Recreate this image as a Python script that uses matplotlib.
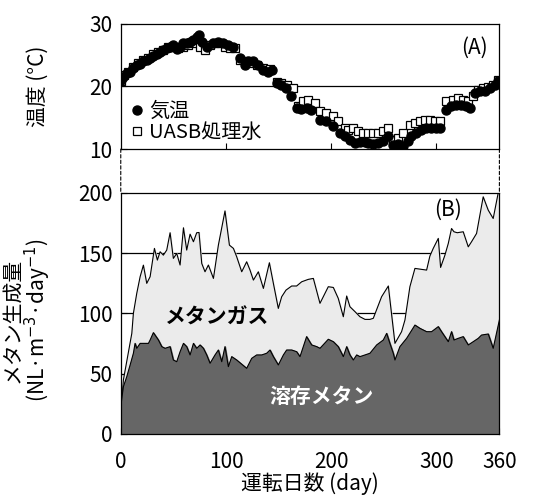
import matplotlib
matplotlib.use('Agg')
import matplotlib.pyplot as plt
from matplotlib.patches import ConnectionPatch

plt.rcParams['font.family'] = ['Noto Sans CJK JP', 'DejaVu Sans']
plt.rcParams['mathtext.fontset'] = 'dejavusans'

# (A) temperature
air_day = [0, 2.5, 5.7, 8.9, 12.0, 15.2, 18.4, 21.5, 24.7, 27.8, 31.0, 34.2, 37.3, 40.5, 43.7,
           46.8, 50.0, 53.2, 56.3, 59.5, 62.7, 65.8, 69.0, 72.2, 74.4, 76.9, 81.6, 88.0, 92.7,
           97.5, 102.2, 107.0, 113.3, 118.0, 121.2, 125.9, 130.7, 135.4, 140.2, 143.4, 148.1,
           152.8, 157.0, 162.3, 167.1, 171.8, 176.6, 181.3, 189.2, 195.6, 201.9, 208.2, 213.0,
           217.7, 222.5, 227.2, 232.0, 235.1, 239.9, 244.6, 249.4, 254.1, 258.9, 263.6, 268.4,
           273.1, 276.3, 281.0, 285.8, 290.5, 295.3, 300.0, 303.2, 309.5, 314.2, 319.0, 323.7,
           328.5, 331.6, 336.4, 341.1, 345.9, 350.6, 355.4, 358.5]
air_temp = [20.96, 21.49, 22.13, 22.39, 22.93, 23.46, 23.62, 23.99, 24.26, 24.52, 24.89, 25.21,
            25.43, 25.85, 26.12, 26.38, 26.65, 25.96, 26.38, 26.91, 27.02, 27.18, 27.45, 27.98,
            28.24, 27.18, 26.38, 26.91, 27.18, 27.02, 26.65, 26.38, 24.52, 23.46, 23.99, 23.99,
            23.46, 22.66, 22.39, 22.66, 20.53, 20.27, 19.73, 18.40, 16.54, 16.38, 16.54, 16.28,
            14.68, 14.41, 13.62, 12.55, 12.02, 11.49, 10.96, 11.06, 11.06, 10.96, 10.85, 10.96,
            11.22, 12.02, 10.69, 10.85, 10.43, 11.22, 12.02, 12.55, 13.09, 13.35, 13.35, 13.35,
            13.35, 16.28, 16.81, 17.07, 17.07, 16.81, 16.54, 18.94, 19.20, 19.20, 19.73, 20.27,
            20.80]

water_day = [0, 3.2, 7.3, 12.0, 16.8, 21.5, 26.3, 31.0, 35.8, 40.5, 45.3, 50.0, 54.7, 59.5,
             64.2, 69.0, 75.3, 80.1, 84.8, 89.6, 94.3, 99.1, 103.8, 108.5, 113.3, 119.6, 124.4,
             129.1, 135.4, 141.8, 148.1, 152.8, 157.6, 163.9, 168.7, 173.4, 178.2, 184.5, 189.2,
             195.6, 201.9, 206.6, 213.0, 216.1, 220.9, 225.6, 230.4, 235.1, 239.9, 244.6, 249.4,
             254.1, 258.9, 263.6, 268.4, 274.7, 279.4, 284.2, 288.9, 293.7, 298.4, 303.2, 309.5,
             315.8, 320.6, 325.3, 330.1, 334.8, 339.6, 344.3, 349.1, 353.8, 358.5]
water_temp = [20.80, 21.86, 22.39, 23.19, 23.72, 24.26, 24.52, 25.21, 25.43, 25.85, 26.28, 26.38,
              26.12, 26.38, 26.65, 26.91, 26.38, 25.85, 26.65, 27.02, 26.91, 26.38, 26.12, 26.12,
              24.26, 23.99, 23.72, 23.46, 22.93, 22.77, 20.64, 20.53, 20.27, 19.73, 16.91, 17.61,
              17.87, 17.34, 16.01, 15.74, 15.21, 14.41, 13.35, 13.09, 13.35, 12.82, 12.55, 12.55,
              12.55, 12.55, 12.82, 13.35, 11.49, 11.76, 12.55, 13.88, 14.15, 14.41, 14.68, 14.68,
              14.41, 14.41, 17.61, 17.87, 18.14, 17.87, 17.61, 18.40, 19.47, 19.73, 19.89, 20.27,
              20.96]

# (B) methane production
gas_day = [0, 2.5, 10.5, 12.0, 15.2, 18.4, 21.5, 24.7, 27.9, 32.0, 34.8, 37.4, 40.5, 43.7, 46.9,
           50.0, 53.2, 56.4, 59.6, 62.7, 65.9, 69.1, 72.2, 74.4, 77.0, 80.1, 83.3, 88.1, 92.8,
           99.1, 103.3, 107.1, 110.2, 115.0, 119.7, 122.9, 126.1, 130.8, 135.6, 141.3, 145.1,
           149.8, 153.0, 157.1, 162.5, 167.2, 172.0, 178.3, 183.1, 189.4, 197.3, 202.1, 206.8,
           211.6, 214.8, 217.9, 222.7, 227.4, 232.2, 236.9, 240.1, 248.0, 254.4, 260.7, 267.0,
           270.2, 274.9, 279.7, 286.0, 290.8, 293.9, 297.1, 301.9, 304.1, 308.2, 311.4, 314.5,
           316.8, 319.9, 325.6, 330.4, 333.5, 338.3, 344.6, 349.4, 354.1, 360]
gas_total = [17, 44.8, 83.4, 100, 116.6, 130.4, 140, 124.9, 130.4, 153.9, 144.2, 151.1, 148.3,
             152.5, 166.9, 145.6, 149.7, 140.1, 171, 152.5, 165.7, 159.4, 166.9, 167.1, 141.4,
             134.5, 140.1, 129, 156.6, 185, 156.6, 153.9, 147, 134.5, 142.8, 135.9, 127.6, 134.5,
             120.7, 142, 124.9, 104.1, 113.8, 119.3, 122.7, 122.7, 126.2, 128.2, 129, 108.3,
             122.1, 121.5, 112.4, 97.2, 114.4, 105.5, 101.4, 97.2, 95, 95, 95.9, 113.8, 122.7,
             75.1, 84.8, 94.5, 122.1, 137.3, 136.5, 135.9, 147.5, 153.9, 162.2, 138.1, 148.3,
             158, 170.4, 167.7, 166.9, 167.7, 155.2, 159.4, 166.3, 196.7, 185.6, 178.7, 205]

dis_day = [0, 2.5, 5.7, 8.9, 12.0, 13.6, 15.2, 18.4, 21.5, 26.3, 27.9, 31.0, 35.8, 39.0, 42.1,
           46.9, 50.0, 53.2, 56.4, 59.6, 62.7, 65.9, 69.1, 72.2, 75.4, 78.6, 81.7, 84.9, 89.6,
           92.8, 96.0, 99.1, 102.3, 105.5, 110.2, 119.7, 124.5, 129.2, 134.0, 138.7, 141.9,
           145.1, 149.8, 154.6, 157.7, 162.5, 167.2, 170.4, 176.7, 181.5, 186.3, 189.4, 197.3,
           202.1, 206.8, 211.6, 214.8, 217.9, 221.1, 224.3, 227.4, 232.2, 236.9, 243.3, 249.6,
           252.8, 255.9, 259.1, 260.7, 265.4, 271.8, 279.7, 284.4, 290.8, 295.5, 301.9, 305.0,
           311.4, 314.5, 316.8, 320.9, 325.6, 330.4, 335.1, 339.9, 343.0, 349.4, 354.1, 360]
dis_val = [22.7, 39.2, 47.5, 57.2, 66.9, 75.1, 71, 75.1, 75.1, 75.1, 77.9, 84, 77.9, 72.4, 71,
           72.4, 61.3, 59.9, 68.2, 75.1, 72.4, 65.5, 75.1, 71, 73.8, 71, 65.5, 58.6, 65.5, 69.6,
           59.9, 72.4, 55.8, 64.1, 61.3, 54.4, 62.7, 65.5, 65.5, 66.9, 69.6, 64.1, 57.2, 65.5,
           69.6, 69.6, 68.2, 64.1, 80.7, 73.8, 72.4, 71, 78.5, 76.5, 72.4, 64.1, 72.4, 65.5,
           61.3, 65.5, 64.1, 65.5, 66.9, 73.8, 77.9, 83.4, 75.1, 66.9, 61.3, 72.4, 79.3, 90.3,
           87.6, 84.8, 84.8, 89, 84.8, 76.5, 84.8, 77.9, 79.3, 80.7, 73.8, 76.5, 79.3, 82, 82.9,
           71, 94.5]

fs = 15

fig = plt.figure(figsize=(5.44, 4.97), dpi=100)
ax1 = fig.add_axes([0.222, 0.700, 0.696, 0.252])
ax2 = fig.add_axes([0.222, 0.127, 0.696, 0.485])

# top panel
ax1.axhline(20, color='black', lw=0.9, zorder=1)
ax1.plot(water_day, water_temp, 's', ms=6, mfc='white', mec='black', mew=0.9,
         label='UASB処理水', zorder=2)
ax1.plot(air_day, air_temp, 'o', ms=6.5, color='black', label='気温', zorder=3)
ax1.set_xlim(0, 360)
ax1.set_ylim(10, 30)
ax1.set_yticks([10, 20, 30])
ax1.set_xticks([100, 200, 300])
ax1.set_xticklabels([])
ax1.tick_params(direction='in', length=4, labelsize=fs, width=0.8, pad=6)
ax1.set_ylabel('温度 (°C)', fontsize=fs)
ax1.yaxis.set_label_coords(-0.19, 0.5)
ax1.text(336, 26.2, '(A)', fontsize=fs, ha='center', va='center')
h, l = ax1.get_legend_handles_labels()
ax1.legend(h[::-1], l[::-1], loc='lower left', frameon=False, fontsize=14.5,
           handletextpad=0.1, handlelength=1.0, borderaxespad=0.0, labelspacing=0.0,
           borderpad=0.3)

# bottom panel
for g in [50, 100, 150]:
    ax2.axhline(g, color='black', lw=0.9, zorder=1)
ax2.fill_between(gas_day, 0, gas_total, color='#ebebeb', zorder=2)
ax2.plot(gas_day, gas_total, color='black', lw=0.8, zorder=3)
ax2.fill_between(dis_day, 0, dis_val, color='#666666', zorder=4)
ax2.plot(dis_day, dis_val, color='black', lw=0.8, zorder=5)
ax2.set_xlim(0, 360)
ax2.set_ylim(0, 200)
ax2.set_yticks([0, 50, 100, 150, 200])
ax2.set_xticks([0, 100, 200, 300, 360])
ax2.tick_params(direction='in', length=4, labelsize=fs, width=0.8, pad=6)
ax2.tick_params(axis='x', pad=12)
ax2.set_xlabel('運転日数 (day)', fontsize=fs, labelpad=0)
ax2.set_ylabel('メタン生成量\n(NL·m$^{-3}$·day$^{-1}$)', fontsize=fs, linespacing=0.95)
ax2.yaxis.set_label_coords(-0.18, 0.47)
ax2.text(92, 97, 'メタンガス', fontsize=fs, fontweight='bold', ha='center', va='center',
         zorder=6)
ax2.text(191, 31, '溶存メタン', fontsize=fs, fontweight='bold', color='white',
         ha='center', va='center', zorder=6)
ax2.text(311, 186, '(B)', fontsize=fs, ha='center', va='center', zorder=6)

for ax in (ax1, ax2):
    for s in ax.spines.values():
        s.set_linewidth(0.9)
        s.set_zorder(7)

for xd in (0, 360):
    con = ConnectionPatch(xyA=(xd, 10), coordsA=ax1.transData,
                          xyB=(xd, 200), coordsB=ax2.transData,
                          linestyle=(0, (3, 2)), color='black', lw=0.8)
    fig.add_artist(con)

fig.savefig('out.png', dpi=100)
